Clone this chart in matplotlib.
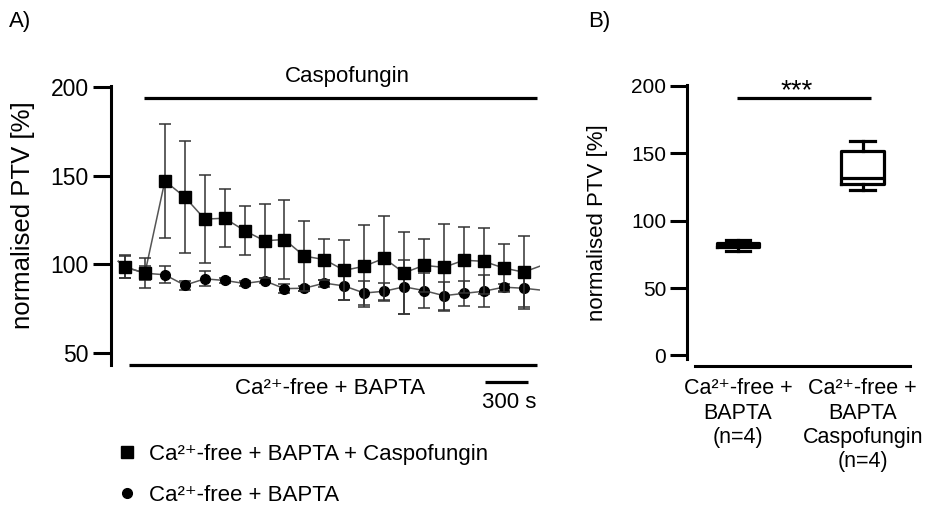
import matplotlib
matplotlib.use('Agg')
import matplotlib.pyplot as plt
from matplotlib.lines import Line2D
import numpy as np

plt.rcParams['font.family'] = ['Liberation Sans', 'DejaVu Sans']

# ---- Panel A data: normalised PTV over time (mean +/- SEM), one point every 140 s
dt = 140
time_s = np.arange(21) * dt
caspo_mean = [98.5, 95.0, 147.0, 138.0, 125.5, 126.0, 119.0, 113.3, 114.0, 104.6, 102.7,
              96.6, 98.9, 103.4, 95.2, 99.4, 98.3, 102.3, 101.7, 97.9, 95.6]
caspo_err = [6.5, 8.5, 32.0, 31.5, 24.7, 16.5, 14.0, 21.0, 22.5, 19.7, 11.6,
             17.0, 23.0, 24.0, 23.0, 15.0, 24.5, 18.6, 18.6, 13.7, 20.6]
bapta_mean = [98.5, 95.0, 94.1, 88.2, 91.8, 90.9, 89.2, 90.7, 86.3, 86.5, 89.4,
              87.8, 83.8, 84.8, 87.3, 85.2, 82.3, 83.6, 84.8, 87.1, 86.5]
bapta_err = [6.0, 4.0, 4.8, 2.5, 4.3, 1.5, 1.5, 1.5, 2.5, 1.5, 2.0,
             7.8, 6.9, 4.8, 15.4, 10.0, 8.0, 7.0, 9.0, 2.0, 10.6]
# trace continues slightly beyond the first / last sampled points
trace_edge_t = [-47, 2940]
caspo_edge = [101.7, 99.7]
bapta_edge = [101.7, 85.3]

caspo_on = [134, 2894]      # Caspofungin application bar (s)
bath_on = [28, 2894]        # Ca2+-free + BAPTA bar (s)
scalebar = [2529, 2829]     # 300 s

# ---- Panel B data: box plot summary
box_labels = ['Ca²⁺-free +\nBAPTA\n(n=4)',
              'Ca²⁺-free +\nBAPTA\nCaspofungin\n(n=4)']
box_whislo = [77.8, 122.7]
box_q1 = [80.2, 127.2]
box_med = [81.8, 132.0]
box_q3 = [83.4, 152.0]
box_whishi = [85.4, 159.4]

lab_ca = 'Ca²⁺-free + BAPTA'

fig = plt.figure(figsize=(9.3, 5.05), dpi=100)
W, H = 930, 505

def px_axes(l, t, r, b):
    return fig.add_axes([l / W, 1 - b / H, (r - l) / W, (b - t) / H])

# ================= Panel A =================
axA = px_axes(111, 86, 540, 365)
sq_x = np.concatenate([[trace_edge_t[0]], time_s, [trace_edge_t[1]]])
axA.plot(sq_x, [caspo_edge[0]] + caspo_mean + [caspo_edge[1]], color='#555555', lw=1.1, zorder=2)
axA.plot(sq_x, [bapta_edge[0]] + bapta_mean + [bapta_edge[1]], color='#555555', lw=1.1, zorder=2)
axA.errorbar(time_s, bapta_mean, yerr=bapta_err, fmt='o', color='black', ms=7,
             ecolor='#333333', elinewidth=1.1, capsize=4, capthick=1.1, zorder=3)
axA.errorbar(time_s, caspo_mean, yerr=caspo_err, fmt='s', color='black', ms=8.5,
             ecolor='#333333', elinewidth=1.1, capsize=4, capthick=1.1, zorder=4)

axA.set_xlim(-98.3, 2915)
axA.set_ylim(43.2, 200.6)
axA.set_yticks([50, 100, 150, 200])
for s in ['top', 'right', 'bottom']:
    axA.spines[s].set_visible(False)
axA.spines['left'].set_linewidth(2.2)
axA.tick_params(axis='y', length=13, width=2.2, labelsize=16.5, pad=3)
axA.set_xticks([])

axA.plot(caspo_on, [194, 194], color='black', lw=2.3, clip_on=False, solid_capstyle='butt')
axA.plot(bath_on, [43.4, 43.4], color='black', lw=2.3, clip_on=False, solid_capstyle='butt')
axA.plot(scalebar, [33.8, 33.8], color='black', lw=2.3, clip_on=False, solid_capstyle='butt')
axA.text(1560, 206, 'Caspofungin', ha='center', va='center', fontsize=16, clip_on=False)
axA.text(1440, 29.9, lab_ca, ha='center', va='center', fontsize=16, clip_on=False)
axA.text(2698, 22.2, '300 s', ha='center', va='center', fontsize=16, clip_on=False)

fig.text(23 / W, 1 - 215 / H, 'normalised PTV [%]', rotation=90, ha='center', va='center', fontsize=18.5)
fig.text(20 / W, 1 - 22 / H, 'A)', ha='center', va='center', fontsize=16)

handles = [Line2D([], [], marker='s', ls='none', color='black', ms=8),
           Line2D([], [], marker='o', ls='none', color='black', ms=7)]
fig.legend(handles, [lab_ca + ' + Caspofungin', lab_ca], loc='upper left',
           bbox_to_anchor=(121.5 / W, 1 - 444 / H), frameon=False, fontsize=16,
           handlelength=0.5, handletextpad=0.75, labelspacing=0.9,
           borderpad=0, borderaxespad=0)

# ================= Panel B =================
axB = px_axes(687, 85.3, 910, 359)
stats = []
for i in range(2):
    stats.append(dict(whislo=box_whislo[i], q1=box_q1[i], med=box_med[i],
                      q3=box_q3[i], whishi=box_whishi[i], fliers=[]))
lw = 2.3
axB.bxp(stats, positions=[1, 2], widths=0.34, showfliers=False,
        boxprops=dict(color='black', lw=lw),
        medianprops=dict(color='black', lw=lw),
        whiskerprops=dict(color='black', lw=lw),
        capprops=dict(color='black', lw=lw), capwidths=0.2)
axB.set_xlim(0.591, 2.38)
axB.set_ylim(-2.6, 200.5)
axB.set_yticks([0, 50, 100, 150, 200])
axB.set_xticks([])
axB.spines['top'].set_visible(False)
axB.spines['right'].set_visible(False)
axB.spines['left'].set_linewidth(2.2)
axB.spines['bottom'].set_linewidth(2.2)
axB.spines['bottom'].set_position(('outward', 5))
axB.spines['bottom'].set_bounds(0.655, 2.38)
axB.tick_params(axis='y', length=12, width=2.2, labelsize=15, pad=3)

axB.plot([0.99, 2.07], [190.8, 190.8], color='black', lw=2.3, clip_on=False, solid_capstyle='butt')
axB.text(1.47, 196, '***', ha='center', va='center', fontsize=20, clip_on=False)
for i, lab in enumerate(box_labels):
    axB.text(i + 1, -17, lab, ha='center', va='top', fontsize=15.5, linespacing=1.2, clip_on=False)

fig.text(597 / W, 1 - 223 / H, 'normalised PTV [%]', rotation=90, ha='center', va='center', fontsize=16)
fig.text(599 / W, 1 - 21 / H, 'B)', ha='center', va='center', fontsize=16)

fig.savefig('out.png', dpi=100)
